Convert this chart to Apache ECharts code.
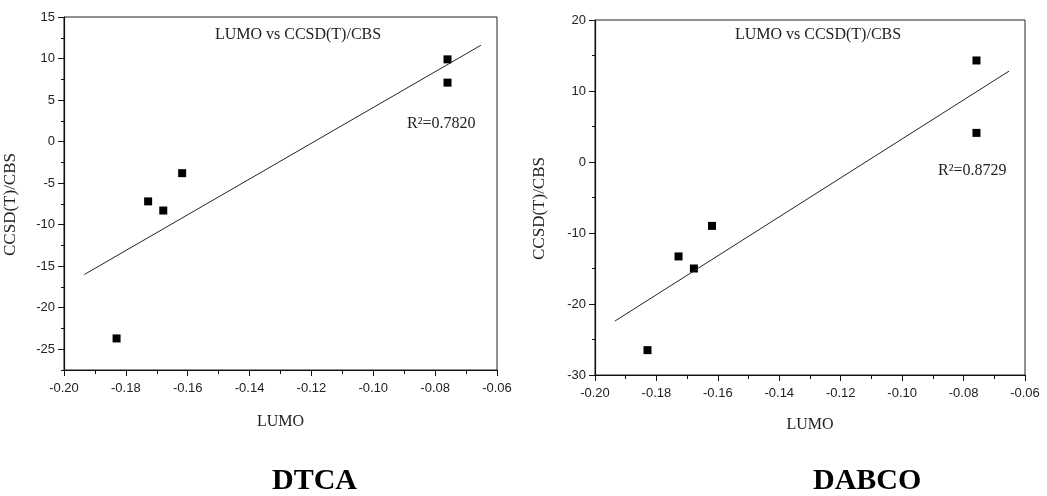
<!DOCTYPE html>
<html>
<head>
<meta charset="utf-8">
<title>LUMO vs CCSD(T)/CBS</title>
<script src="https://cdn.jsdelivr.net/npm/echarts@6/dist/echarts.min.js"></script>
<style>
    html, body { margin: 0; padding: 0; background: #fff; }
    .main_chart { width: 1047px; height: 496px; }
</style>
</head>
<body>
<div class="main_chart"></div>
<script>
// DTCA 数据点
var dtcaX = [-0.183, -0.1728, -0.1679, -0.1618, -0.076, -0.076];
var dtcaY = [-23.7, -7.2, -8.3, -3.8, 9.9, 7.1];
// DTCA 拟合直线两端
var dtcaFitX = [-0.1934, -0.0652];
var dtcaFitY = [-16.0, 11.6];
// DABCO 数据点
var dabcoX = [-0.1829, -0.1728, -0.1678, -0.1619, -0.0758, -0.0758];
var dabcoY = [-26.5, -13.3, -15.0, -9.0, 14.3, 4.1];
// DABCO 拟合直线两端
var dabcoFitX = [-0.1935, -0.0652];
var dabcoFitY = [-22.4, 12.8];
// 左图纵轴刻度
var dtcaYTicks = [-25, -20, -15, -10, -5, 0, 5, 10, 15];
var r2Text = ['R\u00b2=0.7820', 'R\u00b2=0.8729'];
var chartTitle = 'LUMO vs CCSD(T)/CBS';
var panelNames = ['DTCA', 'DABCO'];

window.addEventListener('load', function() {
    var chart = echarts.init(document.querySelector('.main_chart'));

    function pairs(xs, ys) {
        var arr = [];
        for (var i = 0; i < xs.length; i++) {
            arr.push([xs[i], ys[i]]);
        }
        return arr;
    }

    var tickFont = { fontFamily: 'Liberation Sans', fontSize: 13, color: '#222' };
    // 纵轴名称稍微往下移
    var nameFont = { fontFamily: 'Liberation Serif', fontSize: 17, color: '#222', padding: [0, 22, 0, 0] };
    var lineStyle = { onZero: false, lineStyle: { color: '#111', width: 1.2 } };

    // 横轴 两个图一样
    function makeX(idx, gap) {
        return {
            type: 'value', gridIndex: idx,
            min: -0.2, max: -0.06, interval: 0.02,
            name: 'LUMO', nameLocation: 'middle', nameGap: gap,
            nameTextStyle: { fontFamily: 'Liberation Serif', fontSize: 16, color: '#222' },
            axisLine: lineStyle,
            axisTick: { show: true, inside: false, length: 6, lineStyle: { color: '#111' } },
            minorTick: { show: true, splitNumber: 2, length: 4, lineStyle: { color: '#111' } },
            splitLine: { show: false },
            axisLabel: Object.assign({ margin: 12, formatter: function(v) { return v.toFixed(2); } }, tickFont)
        };
    }

    var option = {
        animation: false,
        grid: [
            { left: 64, top: 17, width: 433, height: 353, show: true, borderColor: '#222', borderWidth: 1 },
            { left: 595, top: 20, width: 430, height: 355, show: true, borderColor: '#222', borderWidth: 1 }
        ],
        xAxis: [makeX(0, 44), makeX(1, 42)],
        yAxis: [
            // 左图 主轴 短刻度每2.5
            {
                type: 'value', gridIndex: 0, position: 'left',
                min: -27.5, max: 15, interval: 2.5,
                name: 'CCSD(T)/CBS', nameLocation: 'middle', nameGap: 45,
                nameTextStyle: nameFont,
                axisLine: lineStyle,
                axisTick: { show: true, length: 3, lineStyle: { color: '#111' } },
                splitLine: { show: false },
                axisLabel: Object.assign({ margin: 9, customValues: dtcaYTicks }, tickFont)
            },
            // 左图 长刻度
            {
                type: 'value', gridIndex: 0, position: 'left',
                min: -27.5, max: 15,
                axisLine: { show: false, onZero: false },
                axisTick: { show: true, length: 6, customValues: dtcaYTicks, lineStyle: { color: '#111' } },
                splitLine: { show: false },
                axisLabel: { show: false }
            },
            // 右图
            {
                type: 'value', gridIndex: 1, position: 'left',
                min: -30, max: 20, interval: 10,
                name: 'CCSD(T)/CBS', nameLocation: 'middle', nameGap: 47,
                nameTextStyle: nameFont,
                axisLine: lineStyle,
                axisTick: { show: true, length: 6, lineStyle: { color: '#111' } },
                minorTick: { show: true, splitNumber: 2, length: 3, lineStyle: { color: '#111' } },
                splitLine: { show: false },
                axisLabel: Object.assign({ margin: 9 }, tickFont)
            }
        ],
        series: [
            {
                type: 'line', xAxisIndex: 0, yAxisIndex: 0,
                data: pairs(dtcaFitX, dtcaFitY),
                showSymbol: false, symbol: 'none',
                lineStyle: { color: '#222', width: 1 }
            },
            {
                type: 'scatter', xAxisIndex: 0, yAxisIndex: 0,
                data: pairs(dtcaX, dtcaY),
                symbol: 'rect', symbolSize: 8,
                itemStyle: { color: '#000', opacity: 1 }
            },
            {
                type: 'line', xAxisIndex: 1, yAxisIndex: 2,
                data: pairs(dabcoFitX, dabcoFitY),
                showSymbol: false, symbol: 'none',
                lineStyle: { color: '#222', width: 1 }
            },
            {
                type: 'scatter', xAxisIndex: 1, yAxisIndex: 2,
                data: pairs(dabcoX, dabcoY),
                symbol: 'rect', symbolSize: 8,
                itemStyle: { color: '#000', opacity: 1 }
            }
        ],
        graphic: [
            // 图内标题
            { type: 'text', x: 298, y: 35, style: { text: chartTitle, align: 'center', verticalAlign: 'middle', font: '16px "Liberation Serif"', fill: '#222' } },
            { type: 'text', x: 818, y: 35, style: { text: chartTitle, align: 'center', verticalAlign: 'middle', font: '16px "Liberation Serif"', fill: '#222' } },
            // R2
            { type: 'text', left: 407, top: 116, style: { text: r2Text[0], font: '16px "Liberation Serif"', fill: '#222' } },
            { type: 'text', left: 938, top: 163, style: { text: r2Text[1], font: '16px "Liberation Serif"', fill: '#222' } },
            // 底部名称
            { type: 'text', left: 272, top: 466, style: { text: panelNames[0], font: 'bold 30px "Liberation Serif"', fill: '#000' } },
            { type: 'text', left: 813, top: 466, style: { text: panelNames[1], font: 'bold 30px "Liberation Serif"', fill: '#000' } }
        ]
    };
    chart.setOption(option);
});
</script>
</body>
</html>
